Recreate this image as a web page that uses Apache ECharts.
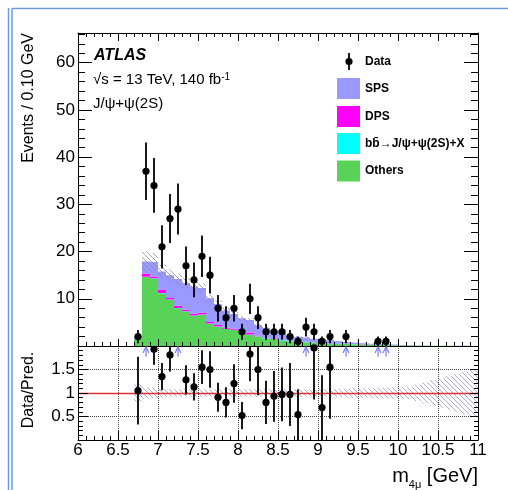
<!DOCTYPE html>
<html>
<head>
<meta charset="utf-8">
<script src="https://cdn.jsdelivr.net/npm/echarts@6/dist/echarts.min.js"></script>
<style>
  html, body { margin: 0; padding: 0; background: #fff; }
  #chart { width: 508px; height: 490px; }
</style>
</head>
<body>
<div id="chart"></div>
<script>
// Binning of the stacked predictions (lower bin edges, GeV)
const binLow = [6.7, 6.8, 6.9, 7.0, 7.1, 7.2, 7.3, 7.4, 7.5, 7.6, 7.7, 7.8, 7.9, 8.0, 8.1, 8.2, 8.3, 8.4, 8.5, 8.6,
  8.7, 8.8, 8.9, 9.0, 9.1, 9.2, 9.3, 9.4, 9.5, 9.6, 9.7, 9.8, 9.9, 10.0, 10.1, 10.2, 10.3, 10.4, 10.5, 10.6,
  10.7, 10.8, 10.9];
const binWidth = 0.1;

// Stacked prediction components (events per bin)
const others = [1.5, 14.6, 14.3, 11.2, 9.8, 8.0, 7.3, 6.4, 6.6, 4.7, 4.1, 3.6, 3.4, 3.2, 2.4, 2.0, 1.6, 1.5, 1.1, 1.0,
  0.9, 0.8, 0.7, 0.6, 0.5, 0.45, 0.4, 0.35, 0.3, 0.25, 0.2, 0.2, 0.15, 0.1, 0.08, 0.06, 0.05, 0.04, 0.03, 0.03,
  0.02, 0.02, 0.01];
const bbbar = [0, 0.05, 0.05, 0.05, 0.05, 0.05, 0.05, 0.05, 0.05, 0.05, 0.05, 0.05, 0.05, 0.05, 0.05, 0.05, 0.1, 0.1, 0.15, 0.15,
  0.15, 0.15, 0.12, 0.1, 0.1, 0.08, 0.06, 0.05, 0.04, 0.03, 0.03, 0.02, 0.02, 0.01, 0, 0, 0, 0, 0, 0,
  0, 0, 0];
const dps = [0.05, 0.7, 0.35, 0.7, 0.3, 0.5, 0.35, 0.4, 0.4, 0.35, 0.3, 0.2, 0.25, 0.2, 0.4, 0.15, 0.1, 0.1, 0.08, 0.06,
  0.05, 0.05, 0.04, 0.04, 0.03, 0.03, 0.03, 0.02, 0.02, 0.02, 0.02, 0.01, 0.01, 0.01, 0, 0, 0, 0, 0, 0,
  0, 0, 0];
const sps = [0.45, 2.55, 3.1, 3.85, 4.85, 5.65, 5.6, 5.75, 5.25, 5.0, 4.45, 3.65, 3.1, 2.45, 2.65, 2.2, 2.0, 1.5, 1.67, 0.89,
  0.8, 0.8, 0.69, 0.66, 0.62, 0.44, 0.36, 0.28, 0.24, 0.2, 0.2, 0.17, 0.12, 0.08, 0.06, 0.05, 0.04, 0.03, 0.025, 0.02,
  0.015, 0.01, 0.01];
// Relative uncertainty of the total prediction per bin
const relUnc = [0.18, 0.12, 0.11, 0.09, 0.08, 0.08, 0.08, 0.08, 0.08, 0.08, 0.08, 0.08, 0.08, 0.08, 0.08, 0.08, 0.08, 0.08, 0.08, 0.08,
  0.08, 0.08, 0.08, 0.08, 0.08, 0.09, 0.09, 0.1, 0.1, 0.1, 0.11, 0.11, 0.12, 0.12, 0.13, 0.17, 0.22, 0.27, 0.31, 0.36,
  0.41, 0.46, 0.5];

// Observed data (bin centres, counts, statistical errors)
const dataX = [6.75, 6.85, 6.95, 7.05, 7.15, 7.25, 7.35, 7.45, 7.55, 7.65, 7.75, 7.85, 7.95, 8.05, 8.15, 8.25, 8.35, 8.45,
  8.55, 8.65, 8.75, 8.85, 8.95, 9.05, 9.15, 9.35, 9.75, 9.85];
const dataY = [2, 37, 34, 21, 27, 29, 17, 14, 19, 15, 8, 6, 8, 3, 10, 6, 3, 3, 3, 2, 1, 4, 3, 1, 2, 2, 1, 1];
const dataErr = [1.4, 6.1, 5.8, 4.6, 5.2, 5.4, 4.1, 3.7, 4.4, 3.9, 2.8, 2.4, 2.8, 1.7, 3.2, 2.4, 1.7, 1.7, 1.7, 1.4,
  1.0, 2.0, 1.7, 1.0, 1.4, 1.4, 1.0, 1.0];

// Data / prediction ratio
const ratioX = [6.75, 6.95, 7.05, 7.15, 7.35, 7.45, 7.55, 7.65, 7.75, 7.85, 7.95, 8.05, 8.15, 8.25, 8.35, 8.45, 8.55,
  8.65, 8.75, 8.95, 9.05, 9.15];
const ratioY = [1.05, 1.93, 1.35, 1.81, 1.28, 1.13, 1.55, 1.50, 0.91, 0.80, 1.20, 0.52, 1.83, 1.50, 0.80, 0.93, 0.97,
  0.97, 0.54, 1.96, 0.69, 1.55];
const ratioErr = [0.72, 0.33, 0.29, 0.35, 0.31, 0.29, 0.36, 0.39, 0.31, 0.32, 0.41, 0.29, 0.58, 0.55, 0.46, 0.54, 0.57,
  0.67, 0.54, 1.1, 0.69, 1.1];
// Bins whose ratio lies above the displayed range
const arrowX = [6.85, 7.25, 8.85, 9.35, 9.75, 9.85];

const yTicksMain = [10, 20, 30, 40, 50, 60];
const yTicksRatio = [0.5, 1, 1.5];

const FONT = '"Liberation Sans", Arial, Helvetica, sans-serif';
const COLORS = { sps: '#9999ff', dps: '#ff00ff', bb: '#00ffff', others: '#58d358' };

function hatchPattern(color) {
  const c = document.createElement('canvas');
  c.width = 5; c.height = 5;
  const ctx = c.getContext('2d');
  ctx.strokeStyle = color;
  ctx.lineWidth = 1;
  ctx.beginPath();
  ctx.moveTo(-1, -1); ctx.lineTo(6, 6);
  ctx.moveTo(-1, 4); ctx.lineTo(1, 6);
  ctx.moveTo(4, -1); ctx.lineTo(6, 1);
  ctx.stroke();
  return { image: c, repeat: 'repeat' };
}

function stepPolygon(api, lo, hi) {
  const pts = [];
  binLow.forEach((x, i) => {
    pts.push(api.coord([x, hi[i]]));
    pts.push(api.coord([x + binWidth, hi[i]]));
  });
  for (let i = binLow.length - 1; i >= 0; i--) {
    pts.push(api.coord([binLow[i] + binWidth, lo[i]]));
    pts.push(api.coord([binLow[i], lo[i]]));
  }
  return pts;
}

// Build the stack bottom-up
const components = [
  { values: others, color: COLORS.others },
  { values: bbbar, color: COLORS.bb },
  { values: dps, color: COLORS.dps },
  { values: sps, color: COLORS.sps }
];
let base = binLow.map(() => 0);
const stackSeries = components.map(c => {
  const lo = base.slice();
  const hi = base.map((b, i) => b + c.values[i]);
  base = hi;
  return {
    type: 'custom', xAxisIndex: 0, yAxisIndex: 0, silent: true, z: 2,
    data: [[6, 0]],
    renderItem: (params, api) => ({
      type: 'polygon', shape: { points: stepPolygon(api, lo, hi) },
      style: { fill: c.color, lineWidth: 0 }
    })
  };
});
const total = base;

const hatchMain = hatchPattern('rgba(135,135,160,0.75)');
const hatchRatio = hatchPattern('rgba(150,150,200,0.8)');

function errorPoints(clipMax) {
  return (params, api) => {
    const x = api.value(0), y = api.value(1), e = api.value(2);
    const c = api.coord([x, y]);
    const top = api.coord([x, Math.min(y + e, clipMax)]);
    const bot = api.coord([x, Math.max(y - e, 0)]);
    return {
      type: 'group', children: [
        { type: 'line', shape: { x1: c[0], y1: top[1], x2: c[0], y2: bot[1] }, style: { stroke: '#000', lineWidth: 1.8 } },
        { type: 'circle', shape: { cx: c[0], cy: c[1], r: 3.6 }, style: { fill: '#000' } }
      ]
    };
  };
}

function axisCommon(extra) {
  return Object.assign({
    type: 'value', z: 5,
    axisLine: { show: true, onZero: false, lineStyle: { color: '#000', width: 1 } },
    splitLine: { show: false },
    axisLabel: { show: false }
  }, extra);
}
const tickStyle = { color: '#000', width: 1 };

const chart = echarts.init(document.getElementById('chart'), null, { renderer: 'canvas' });
chart.setOption({
  animation: false,
  backgroundColor: '#fff',
  grid: [
    { left: 78, right: 30, top: 33, height: 313 },
    { left: 78, right: 30, top: 346, height: 94 }
  ],
  xAxis: [
    axisCommon({ gridIndex: 0, position: 'bottom', min: 6, max: 11, interval: 0.5,
      axisTick: { inside: true, length: 7, lineStyle: tickStyle },
      minorTick: { show: true, splitNumber: 5, length: 4, lineStyle: tickStyle } }),
    axisCommon({ gridIndex: 0, position: 'top', min: 6, max: 11, interval: 0.5,
      axisTick: { inside: true, length: 8, lineStyle: tickStyle },
      minorTick: { show: true, splitNumber: 5, length: 4, lineStyle: tickStyle } }),
    axisCommon({ gridIndex: 1, position: 'bottom', min: 6, max: 11, interval: 0.5,
      axisLabel: { show: true, fontSize: 17, fontFamily: FONT, color: '#000', margin: 2 },
      axisTick: { inside: true, length: 9, lineStyle: tickStyle },
      minorTick: { show: true, splitNumber: 5, length: 4, lineStyle: tickStyle },
      splitLine: { show: true, lineStyle: { type: 'dotted', color: '#444', width: 1 } } })
  ],
  yAxis: [
    axisCommon({ gridIndex: 0, position: 'left', min: 0, max: 66.3, interval: 10,
      axisLabel: { show: true, fontSize: 17, fontFamily: FONT, color: '#000', margin: 3,
        formatter: v => (yTicksMain.indexOf(v) >= 0 ? String(v) : '') },
      axisTick: { inside: true, length: 14, lineStyle: tickStyle },
      minorTick: { show: true, splitNumber: 5, length: 7, lineStyle: tickStyle } }),
    axisCommon({ gridIndex: 0, position: 'right', min: 0, max: 66.3, interval: 10,
      axisTick: { inside: true, length: 14, lineStyle: tickStyle },
      minorTick: { show: true, splitNumber: 5, length: 7, lineStyle: tickStyle } }),
    axisCommon({ gridIndex: 1, position: 'left', min: 0, max: 2, interval: 0.5,
      axisLabel: { show: true, fontSize: 17, fontFamily: FONT, color: '#000', margin: 3,
        formatter: v => (yTicksRatio.indexOf(v) >= 0 ? String(v) : '') },
      axisTick: { inside: true, length: 10, lineStyle: tickStyle },
      minorTick: { show: true, splitNumber: 5, length: 5, lineStyle: tickStyle },
      splitLine: { show: true, lineStyle: { type: 'dotted', color: '#444', width: 1 } } }),
    axisCommon({ gridIndex: 1, position: 'right', min: 0, max: 2, interval: 0.5,
      axisTick: { inside: true, length: 8, lineStyle: tickStyle },
      minorTick: { show: true, splitNumber: 5, length: 4, lineStyle: tickStyle } })
  ],
  series: [
    ...stackSeries,
    // total prediction uncertainty
    {
      type: 'custom', xAxisIndex: 0, yAxisIndex: 0, silent: true, z: 3,
      data: [[6, 0]],
      renderItem: (params, api) => ({
        type: 'polygon',
        shape: { points: stepPolygon(api, total.map((t, i) => t * (1 - relUnc[i])), total.map((t, i) => t * (1 + relUnc[i]))) },
        style: { fill: hatchMain, lineWidth: 0 }
      })
    },
    {
      type: 'custom', xAxisIndex: 0, yAxisIndex: 0, silent: true, z: 6,
      data: dataX.map((x, i) => [x, dataY[i], dataErr[i]]),
      renderItem: errorPoints(66.3)
    },
    // ratio panel: uncertainty band and unity line
    {
      type: 'custom', xAxisIndex: 2, yAxisIndex: 2, silent: true, z: 3,
      data: [[6, 1]],
      renderItem: (params, api) => ({
        type: 'polygon',
        shape: { points: stepPolygon(api, relUnc.map(r => 1 - r), relUnc.map(r => 1 + r)) },
        style: { fill: hatchRatio, lineWidth: 0 }
      }),
      markLine: {
        silent: true, symbol: 'none', label: { show: false },
        lineStyle: { color: '#dd3333', width: 1.3, type: 'solid' },
        data: [{ yAxis: 1 }]
      }
    },
    {
      type: 'custom', xAxisIndex: 2, yAxisIndex: 2, silent: true, z: 6,
      data: ratioX.map((x, i) => [x, ratioY[i], ratioErr[i]]),
      renderItem: errorPoints(2)
    },
    {
      type: 'custom', xAxisIndex: 2, yAxisIndex: 2, silent: true, z: 6,
      data: arrowX.map(x => [x, 1.98]),
      renderItem: (params, api) => {
        const tip = api.coord([api.value(0), api.value(1)]);
        const tail = api.coord([api.value(0), 1.77]);
        const st = { stroke: '#7c7cff', lineWidth: 1.2, fill: null };
        return {
          type: 'group', children: [
            { type: 'line', shape: { x1: tip[0], y1: tip[1], x2: tail[0], y2: tail[1] }, style: st },
            { type: 'polyline', shape: { points: [[tip[0] - 3, tip[1] + 6], tip, [tip[0] + 3, tip[1] + 6]] }, style: st }
          ]
        };
      }
    }
  ],
  graphic: [
    { type: 'line', shape: { x1: 8.5, y1: 8, x2: 8.5, y2: 490 }, style: { stroke: '#6f9be6', lineWidth: 1.5 } },
    { type: 'line', shape: { x1: 12, y1: 8.5, x2: 12, y2: 490 }, style: { stroke: '#6f9be6', lineWidth: 1.5 } },
    { type: 'line', shape: { x1: 12, y1: 8.5, x2: 508, y2: 8.5 }, style: { stroke: '#6f9be6', lineWidth: 1.5 } },
    // axis titles
    { type: 'text', x: 29, y: 33, rotation: Math.PI / 2,
      style: { text: 'Events / 0.10 GeV', font: '16px ' + FONT, fill: '#000', align: 'right', verticalAlign: 'middle' } },
    { type: 'text', x: 29, y: 390, rotation: Math.PI / 2,
      style: { text: 'Data/Pred.', font: '16px ' + FONT, fill: '#000', align: 'center', verticalAlign: 'middle' } },
    { type: 'text', x: 478, y: 466,
      style: {
        text: '{a|m}{s|4μ}{a| [GeV]}', align: 'right', verticalAlign: 'top', fill: '#000',
        rich: {
          a: { fontSize: 20, fontFamily: FONT, lineHeight: 24, verticalAlign: 'top', fill: '#000' },
          s: { fontSize: 11, fontFamily: FONT, lineHeight: 16, verticalAlign: 'bottom', fill: '#000' }
        }
      } },
    // labels
    { type: 'text', x: 94, y: 56,
      style: { text: 'ATLAS', font: 'italic bold 16px ' + FONT, fill: '#000', align: 'left', verticalAlign: 'middle' } },
    { type: 'text', x: 93, y: 72,
      style: {
        text: '{a|√s = 13 TeV, 140 fb}{b|-1}', align: 'left', verticalAlign: 'top', fill: '#000',
        rich: {
          a: { fontSize: 15, fontFamily: FONT, lineHeight: 18, verticalAlign: 'top', fill: '#000' },
          b: { fontSize: 10, fontFamily: FONT, lineHeight: 10, verticalAlign: 'top', fill: '#000' }
        }
      } },
    { type: 'text', x: 93, y: 104,
      style: { text: 'J/ψ+ψ(2S)', font: '15px ' + FONT, fill: '#000', align: 'left', verticalAlign: 'middle' } },
    // legend
    { type: 'line', shape: { x1: 349, y1: 53, x2: 349, y2: 70 }, style: { stroke: '#000', lineWidth: 1.8 } },
    { type: 'circle', shape: { cx: 349, cy: 61.5, r: 3.6 }, style: { fill: '#000' } },
    { type: 'text', x: 365, y: 61.5,
      style: { text: 'Data', font: 'bold 12px ' + FONT, fill: '#000', align: 'left', verticalAlign: 'middle' } },
    { type: 'rect', shape: { x: 337, y: 78, width: 23, height: 21 }, style: { fill: COLORS.sps } },
    { type: 'text', x: 365, y: 89,
      style: { text: 'SPS', font: 'bold 12px ' + FONT, fill: '#000', align: 'left', verticalAlign: 'middle' } },
    { type: 'rect', shape: { x: 337, y: 106, width: 23, height: 21 }, style: { fill: COLORS.dps } },
    { type: 'text', x: 365, y: 116.5,
      style: { text: 'DPS', font: 'bold 12px ' + FONT, fill: '#000', align: 'left', verticalAlign: 'middle' } },
    { type: 'rect', shape: { x: 337, y: 133, width: 23, height: 21 }, style: { fill: COLORS.bb } },
    { type: 'text', x: 365, y: 144,
      style: { text: 'bb\u0304\u2192J/ψ+ψ(2S)+X', font: 'bold 12px ' + FONT, fill: '#000', align: 'left', verticalAlign: 'middle' } },
    { type: 'rect', shape: { x: 337, y: 160.5, width: 23, height: 21 }, style: { fill: COLORS.others } },
    { type: 'text', x: 365, y: 171,
      style: { text: 'Others', font: 'bold 12px ' + FONT, fill: '#000', align: 'left', verticalAlign: 'middle' } }
  ]
});
</script>
</body>
</html>
